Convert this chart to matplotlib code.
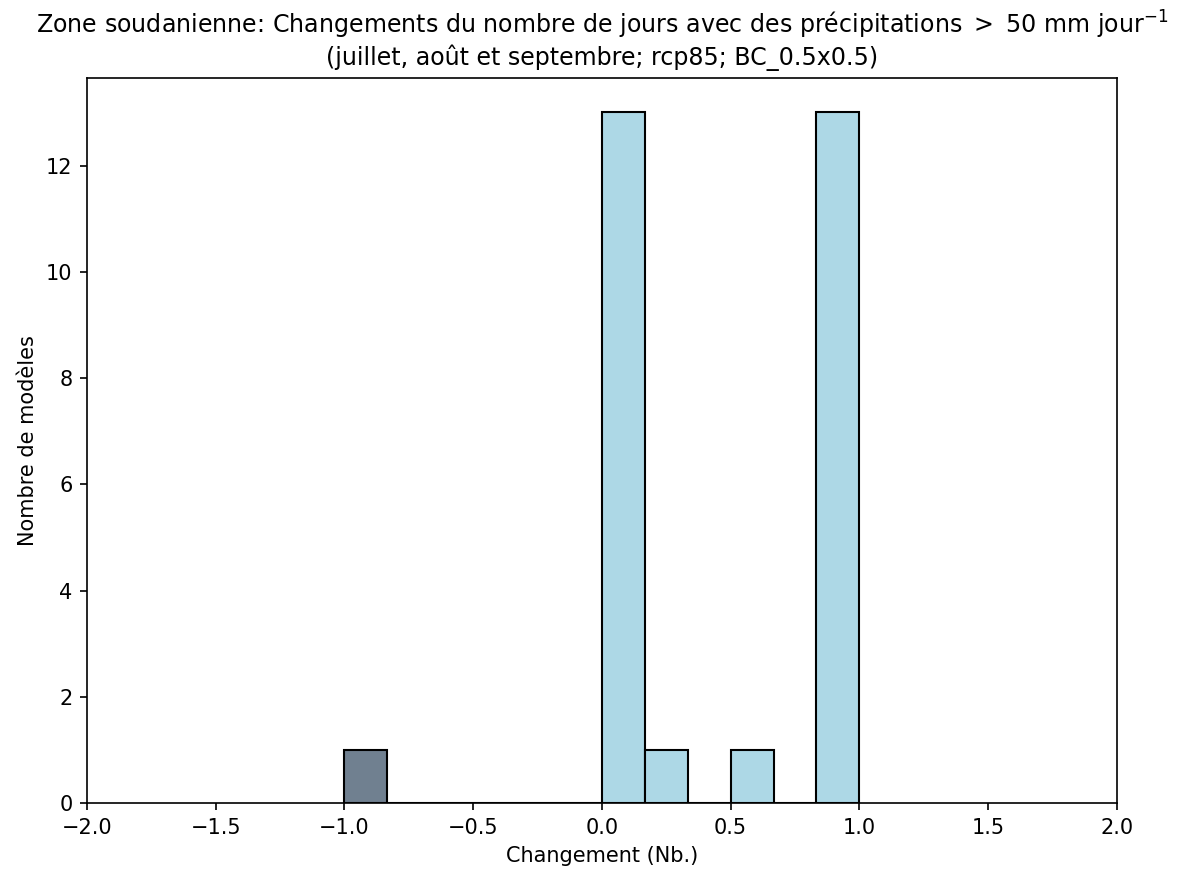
import numpy as np
import matplotlib
matplotlib.use('Agg')
import matplotlib.pyplot as plt

# model changes (nb. of days)
changes_neg = [-1.0]
changes_pos = [0.0] * 13 + [0.2, 0.5] + [1.0] * 13
bin_edges = np.linspace(-1, 1, 13)

fig = plt.figure(figsize=(1177 / 150, 871 / 150), dpi=150)
ax = fig.add_axes([0.0739, 0.0781, 0.875, 0.8324])

counts, edges, patches = ax.hist(changes_neg + changes_pos, bins=bin_edges,
                                 color='lightblue', edgecolor='black', linewidth=1)
for p in patches:
    if p.get_x() < 0:
        p.set_facecolor('slategray')

ax.set_xlim(-2, 2)
ax.set_xlabel('Changement (Nb.)')
ax.set_ylabel('Nombre de modèles')
ax.set_title('Zone soudanienne: Changements du nombre de jours avec des précipitations $>$ 50 mm jour$^{-1}$\n'
             '(juillet, août et septembre; rcp85; BC_0.5x0.5)', fontsize=11.4)

fig.savefig('out.png', dpi=150)
